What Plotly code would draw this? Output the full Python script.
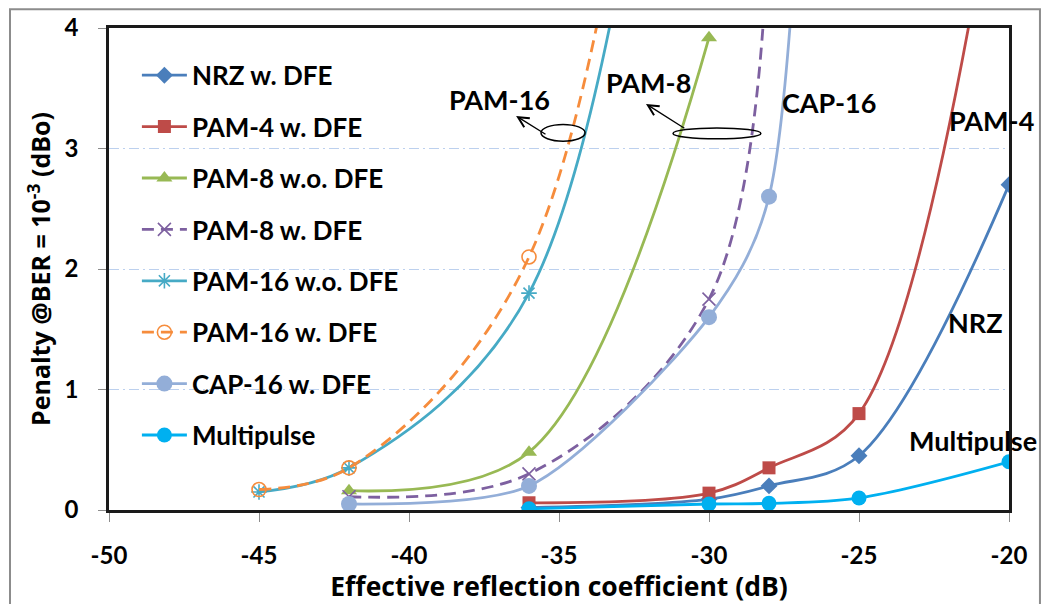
import plotly.graph_objects as go

# Effective reflection coefficient (dB) and penalty (dBo) per modulation format
x_nrz = [-36, -30, -28, -25, -20]
y_nrz = [0.02, 0.09, 0.2, 0.45, 2.7]

x_pam4 = [-36, -30, -28, -25, -20]
y_pam4 = [0.06, 0.14, 0.35, 0.8, 6.0]

x_pam8_wo = [-42, -36, -30]
y_pam8_wo = [0.16, 0.48, 3.92]

x_pam8_w = [-42, -36, -30, -28]
y_pam8_w = [0.11, 0.3, 1.75, 5.0]

x_pam16_wo = [-45, -42, -36, -30]
y_pam16_wo = [0.15, 0.35, 1.8, 10.0]

x_pam16_w = [-45, -42, -36, -30]
y_pam16_w = [0.17, 0.35, 2.1, 11.0]

x_cap16 = [-42, -36, -30, -28, -25]
y_cap16 = [0.05, 0.2, 1.6, 2.6, 35.0]

x_multi = [-36, -30, -28, -25, -20]
y_multi = [0.01, 0.05, 0.055, 0.1, 0.4]

x_tickvals = [-50, -45, -40, -35, -30, -25, -20]
x_ticktext = ["-50", "-45", "-40", "-35", "-30", "-25", "-20"]
y_tickvals = [0, 1, 2, 3, 4]

FONT = "Lato"
TITLE_FONT = "Open Sans"

# name, x, y, colour, dash, marker, spline smoothing
series = [
    ("NRZ w. DFE", x_nrz, y_nrz, "#4A7EBB", "solid",
     dict(symbol="diamond", size=13, color="#4A7EBB"), 1.0),
    ("PAM-4 w. DFE", x_pam4, y_pam4, "#BE4B48", "solid",
     dict(symbol="square", size=13, color="#BE4B48"), 1.0),
    ("PAM-8 w.o. DFE", x_pam8_wo, y_pam8_wo, "#98B954", "solid",
     dict(symbol="triangle-up", size=14, color="#98B954"), 1.0),
    ("PAM-8 w. DFE", x_pam8_w, y_pam8_w, "#7D60A0", "12px,7px",
     dict(symbol="x-thin-open", size=13, color="#7D60A0",
          line=dict(width=1.6, color="#7D60A0")), 1.0),
    ("PAM-16 w.o. DFE", x_pam16_wo, y_pam16_wo, "#46AAC5", "solid",
     dict(symbol="asterisk-open", size=13, color="#46AAC5",
          line=dict(width=1.6, color="#46AAC5")), 1.0),
    ("PAM-16 w. DFE", x_pam16_w, y_pam16_w, "#F68C3C", "12px,7px",
     dict(symbol="circle-open", size=14, color="#F68C3C",
          line=dict(width=1.6, color="#F68C3C")), 1.0),
    ("CAP-16 w. DFE", x_cap16, y_cap16, "#93AED8", "solid",
     dict(symbol="circle", size=16, color="#93AED8"), 0.75),
    ("Multipulse", x_multi, y_multi, "#00B0F0", "solid",
     dict(symbol="circle", size=15, color="#00B0F0"), 1.0),
]

fig = go.Figure()
for i, (name, xs, ys, color, dash, marker, smooth) in enumerate(series):
    fig.add_trace(go.Scatter(
        x=xs, y=ys, name=name, mode="lines+markers",
        line=dict(color=color, width=2.8, shape="spline", smoothing=smooth, dash=dash),
        marker=marker, legendgroup=f"g{i}",
    ))

# Text labels next to the curves
labels = [
    ("PAM-16", -36.97, 3.41),
    ("PAM-8", -32.03, 3.545),
    ("CAP-16", -26.0, 3.385),
    ("PAM-4", -20.57, 3.23),
    ("NRZ", -21.13, 1.56),
    ("Multipulse", -21.2, 0.575),
]
for text, lx, ly in labels:
    fig.add_annotation(x=lx, y=ly, text=text, showarrow=False,
                       font=dict(family=FONT, size=27, color="black", weight="bold"))

# Arrows pointing from the grouping ellipses to the labels
arrows = [((-36.43, 3.27), (-35.4, 3.11)), ((-32.1, 3.37), (-30.77, 3.16))]
for (tx, ty), (sx, sy) in arrows:
    fig.add_annotation(x=tx, y=ty, ax=sx, ay=sy, axref="x", ayref="y", text="",
                       showarrow=True, arrowhead=5, arrowsize=1.6, arrowwidth=1.3,
                       arrowcolor="black")

# Ellipses grouping the PAM-16 and PAM-8 curves
fig.add_shape(type="circle", xref="x", yref="y", x0=-35.6, x1=-34.13, y0=3.06, y1=3.2,
              line=dict(color="black", width=1.5))
fig.add_shape(type="circle", xref="x", yref="y", x0=-31.2, x1=-28.27, y0=3.08, y1=3.17,
              line=dict(color="black", width=1.5))

# White panel behind the legend (hides the gridlines, curves stay on top)
fig.add_shape(type="rect", xref="x", yref="y", x0=-49.53, x1=-39.45, y0=0.5, y1=3.6,
              fillcolor="white", line=dict(width=0), layer="below")

# Outer chart frame
fig.add_shape(type="rect", xref="paper", yref="paper", x0=-0.11, x1=1.0344, y0=-0.23, y1=1.039,
              line=dict(color="#8C8C8C", width=2), layer="below")

fig.update_layout(
    width=1043, height=604,
    margin=dict(l=109, r=34, t=24, b=94),
    paper_bgcolor="white", plot_bgcolor="white",
    font=dict(family=FONT, size=24, color="black", weight="bold"),
    legend=dict(
        x=0.031, y=0.9506, xanchor="left", yanchor="top",
        bgcolor="rgba(0,0,0,0)", borderwidth=0, tracegroupgap=14.6, itemwidth=45,
        font=dict(family=FONT, size=26, color="black", weight="bold"),
    ),
    xaxis=dict(
        range=[-50, -20], tickvals=x_tickvals, ticktext=x_ticktext,
        showgrid=False, zeroline=False,
        showline=True, linecolor="#1A1A1A", linewidth=2.5, mirror=True,
        ticks="outside", ticklen=9, tickcolor="#8C8C8C", tickwidth=1,
        tickfont=dict(family=FONT, size=24, weight="bold"),
        ticklabelstandoff=13,
        title=dict(text="Effective reflection coefficient (dB)",
                   font=dict(family=TITLE_FONT, size=26.5, weight="bold"), standoff=0),
    ),
    yaxis=dict(
        range=[0, 4], tickvals=y_tickvals,
        showgrid=True, gridcolor="#BCD0EE", griddash="10px,4px,2px,4px", gridwidth=1,
        zeroline=False,
        showline=True, linecolor="#1A1A1A", linewidth=2.5, mirror=True,
        ticks="outside", ticklen=8, tickcolor="#8C8C8C", tickwidth=1,
        tickfont=dict(family=FONT, size=24, weight="bold"),
        ticklabelstandoff=15,
        title=dict(text="Penalty @BER = 10<sup>-3</sup> (dBo)",
                   font=dict(family=TITLE_FONT, size=25, weight="bold"), standoff=7),
    ),
)

fig.write_html("out.html")
